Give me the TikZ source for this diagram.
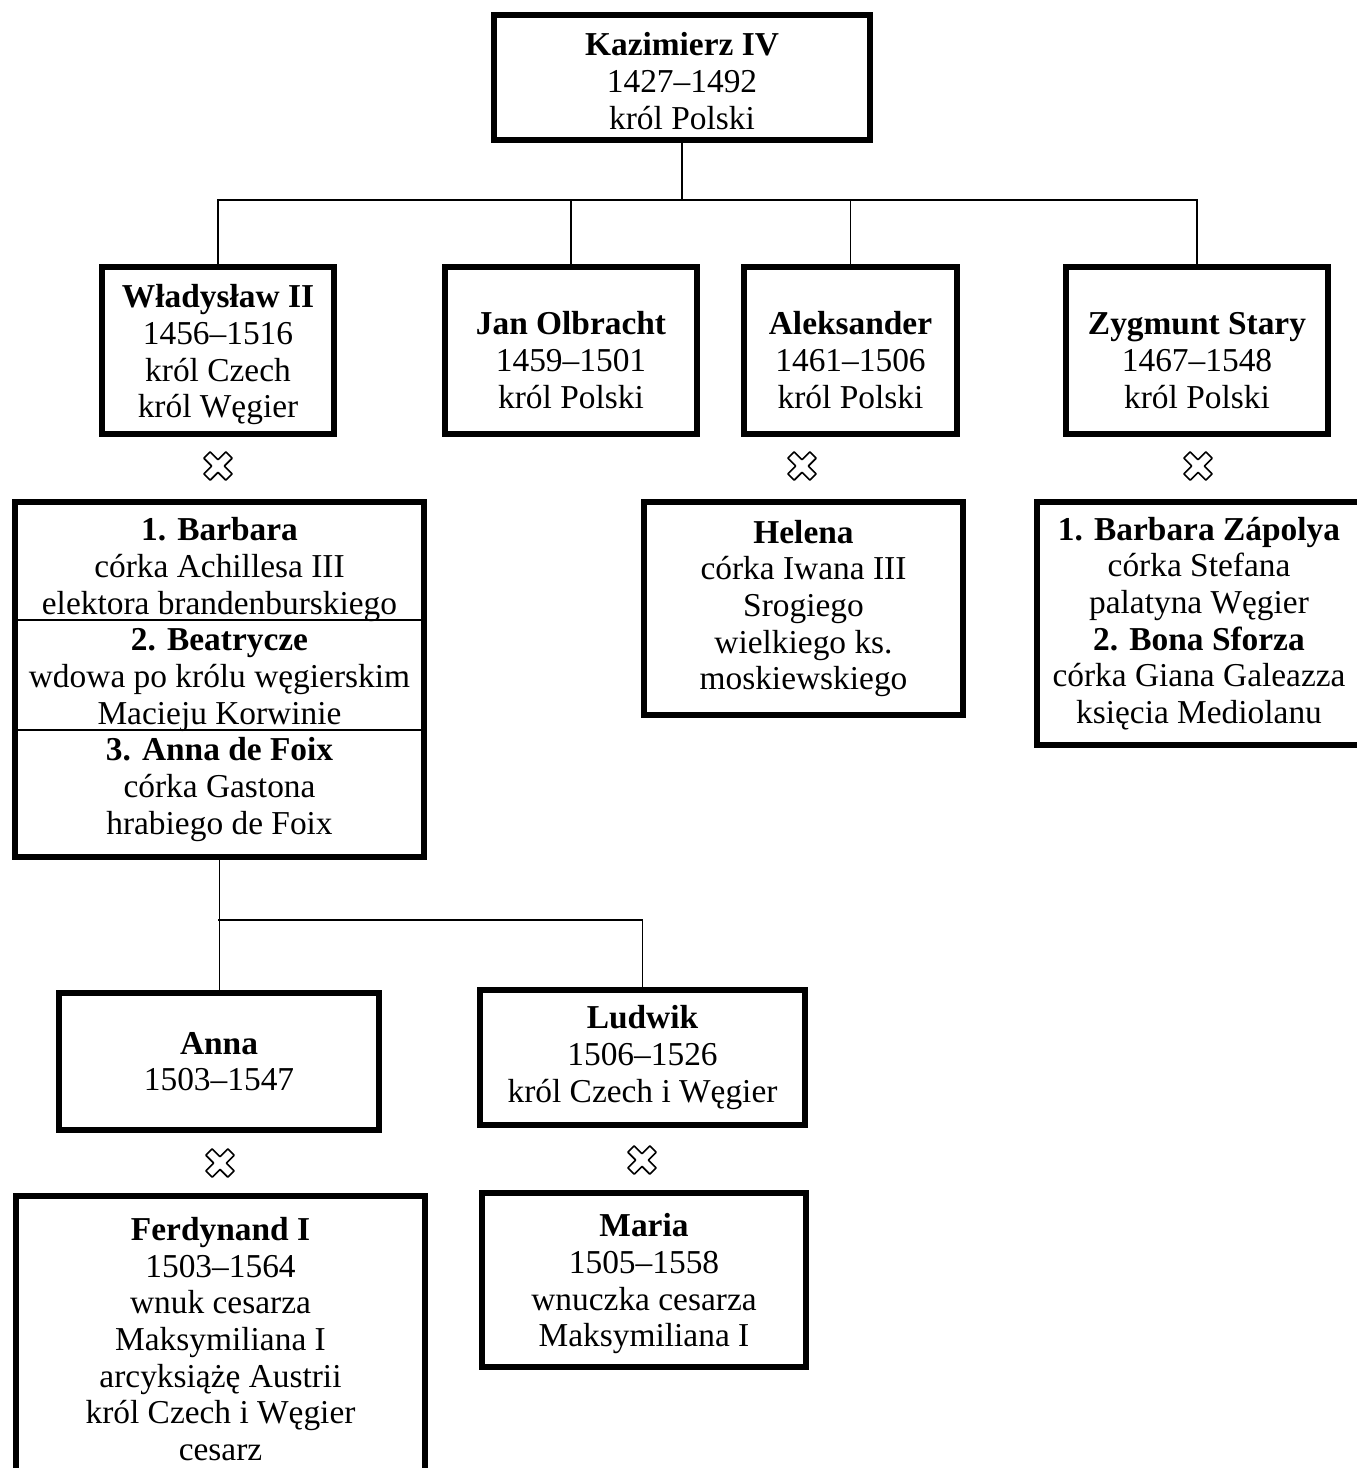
\documentclass[tikz,border=0pt]{standalone}
\usepackage{fontspec}
\setmainfont{Liberation Serif}
\usetikzlibrary{calc}
\newcommand{\padtop}[1]{\rule{0pt}{#1pt}}

\begin{document}
\begin{tikzpicture}[x=1pt, y=-1pt,
    person/.style={draw, line width=6pt, inner sep=0pt, align=center,
        font=\fontsize{33.4}{36.7}\selectfont},
    link/.style={line width=1.8pt},
    split/.style={line width=1.5pt},
    wed/.pic={\draw[line width=1.6pt, line join=round, rotate=45]
        (-4.5,-15.5) -- (-4.5,-4.5) -- (-15.5,-4.5) -- (-15.5,4.5) -- (-4.5,4.5) -- (-4.5,15.5)
        -- (4.5,15.5) -- (4.5,4.5) -- (15.5,4.5) -- (15.5,-4.5) -- (4.5,-4.5) -- (4.5,-15.5) -- cycle;}]
\useasboundingbox (0,0) rectangle (1357,1468);
\clip (0,0) rectangle (1357,1468);

\node[person, minimum width=376, minimum height=125] (kaz) at (682,77.5)
    {\padtop{30}\textbf{Kazimierz IV}\\1427--1492\\król Polski};

\node[person, minimum width=232, minimum height=167] (wlad) at (218,350.5)
    {\padtop{32}\textbf{Władysław II}\\1456--1516\\król Czech\\król Węgier};
\node[person, minimum width=252, minimum height=167] (jan) at (571,350.5)
    {\padtop{42}\textbf{Jan Olbracht}\\1459--1501\\król Polski};
\node[person, minimum width=213, minimum height=167] (alek) at (850.5,350.5)
    {\padtop{42}\textbf{Aleksander}\\1461--1506\\król Polski};
\node[person, minimum width=262, minimum height=167] (zyg) at (1197,350.5)
    {\padtop{42}\textbf{Zygmunt Stary}\\1467--1548\\król Polski};

\pic at (218,466) {wed};
\pic at (802,466) {wed};
\pic at (1198,466) {wed};

\node[person, minimum width=409, minimum height=355] (wladw) at (219.5,679.5)
    {\textbf{1. Barbara}\\córka Achillesa III\\elektora brandenburskiego\\
     \textbf{2. Beatrycze}\\wdowa po królu węgierskim\\Macieju Korwinie\\
     \textbf{3. Anna de Foix}\\córka Gastona\\hrabiego de Foix};
\foreach \d in {121,231}
    \draw[split] ($(wladw.north west)+(0,\d)$) -- ($(wladw.north east)+(0,\d)$);

\node[person, minimum width=319, minimum height=213] (alekw) at (803.5,608.5)
    {\textbf{Helena}\\córka Iwana III\\Srogiego\\wielkiego ks.\\moskiewskiego};
\node[person, minimum width=324, minimum height=243] (zygw) at (1199,623.5)
    {\textbf{1. Barbara Zápolya}\\córka Stefana\\palatyna Węgier\\
     \textbf{2. Bona Sforza}\\córka Giana Galeazza\\księcia Mediolanu};

\node[person, minimum width=320, minimum height=137] (anna) at (219,1061.5)
    {\textbf{Anna}\\1503--1547};
\node[person, minimum width=325, minimum height=135] (ludwik) at (642.5,1057.5)
    {\textbf{Ludwik}\\1506--1526\\król Czech i Węgier};

\pic at (220,1163) {wed};
\pic at (642,1160) {wed};

\node[person, minimum width=409, minimum height=286] (annaw) at (220.5,1339)
    {\textbf{Ferdynand I}\\1503--1564\\wnuk cesarza\\Maksymiliana I\\
     arcyksiążę Austrii\\król Czech i Węgier\\cesarz};
\node[person, minimum width=324, minimum height=174] (ludwikw) at (644,1280)
    {\padtop{31}\textbf{Maria}\\1505--1558\\wnuczka cesarza\\Maksymiliana I};

\coordinate (fork) at (682,200);
\draw[link] (kaz.south) -- (fork);
\draw[link] (wlad.north) |- (fork) -| (zyg.north);
\draw[link] (jan.north) -- (jan.north |- fork);
\draw[link] (alek.north) -- (alek.north |- fork);

\coordinate (fork2) at (218,920);
\draw[link] (wladw.south) -- (wladw.south |- anna.north);
\draw[link] (fork2) -| (ludwik.north);
\end{tikzpicture}
\end{document}
